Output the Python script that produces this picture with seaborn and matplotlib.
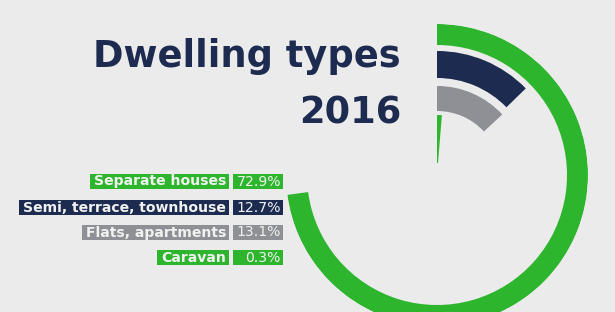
import numpy as np
import matplotlib
matplotlib.use("Agg")
import matplotlib.pyplot as plt
import seaborn as sns
from matplotlib.patches import Rectangle

# ---- data ----
categories = ["Separate houses", "Semi, terrace, townhouse", "Flats, apartments", "Caravan"]
values = [72.9, 12.7, 13.1, 0.3]
pct_labels = ["72.9%", "12.7%", "13.1%", "0.3%"]
title_lines = ["Dwelling types", "2016"]

# ---- style ----
BG = "#EBEBEB"
GREEN = "#2DB52D"
NAVY = "#1C2B4F"
GRAY = "#8E9096"
palette = sns.color_palette([GREEN, NAVY, GRAY, GREEN])
outer_r = [151, 124, 89, 60]
inner_r = [130, 97, 64, 12]
MIN_VISIBLE_PCT = 1.3  # tiny slices are drawn with a minimum visible angle

sns.set_theme(style="white", rc={"figure.facecolor": BG, "axes.facecolor": BG})
plt.rcParams['font.family'] = ['DejaVu Sans']

fig = plt.figure(figsize=(6.15, 3.12), dpi=100)
ax = fig.add_axes([0, 0, 1, 1])
ax.set_xlim(0, 615)
ax.set_ylim(312, 0)
ax.axis('off')

# radial bars
pax = fig.add_axes([(437 - 151) / 615, (312 - 175 - 151) / 312, 302 / 615, 302 / 312],
                   projection='polar')
pax.set_theta_zero_location('N')
pax.set_theta_direction(-1)
pax.set_ylim(0, 151)
pax.axis('off')
pax.patch.set_alpha(0)
for v, c, ro, ri in zip(values, palette, outer_r, inner_r):
    w = max(v, MIN_VISIBLE_PCT) / 100 * 2 * np.pi
    pax.bar(0, ro - ri, width=w, bottom=ri, align='edge', color=c,
            edgecolor=c, linewidth=0)

# title
ax.text(401, 67, title_lines[0], ha='right', va='baseline', fontsize=26.5,
        fontweight='bold', color=NAVY)
ax.text(401, 124, title_lines[1], ha='right', va='baseline', fontsize=26.5,
        fontweight='bold', color=NAVY)

# legend labels
row_y = [181, 207, 232, 257]
fig.canvas.draw()
renderer = fig.canvas.get_renderer()
inv = ax.transData.inverted()
for cat, pct, c, y in zip(categories, pct_labels, palette, row_y):
    t = ax.text(226, y + 0.5, cat, ha='right', va='center', fontsize=10.1,
                fontweight='bold', color='#F0F2F0', zorder=3)
    bb = t.get_window_extent(renderer)
    x0 = inv.transform((bb.x0, bb.y0))[0]
    ax.add_patch(Rectangle((x0 - 4, y - 7.5), 229 - (x0 - 4), 15, color=c, zorder=2, lw=0))
    ax.add_patch(Rectangle((233, y - 7.5), 50, 15, color=c, zorder=2, lw=0))
    ax.text(281, y + 0.5, pct, ha='right', va='center', fontsize=10.1,
            fontweight='normal', color='#F0F2F0', zorder=3)

fig.savefig("out.png", dpi=100, facecolor=BG)
